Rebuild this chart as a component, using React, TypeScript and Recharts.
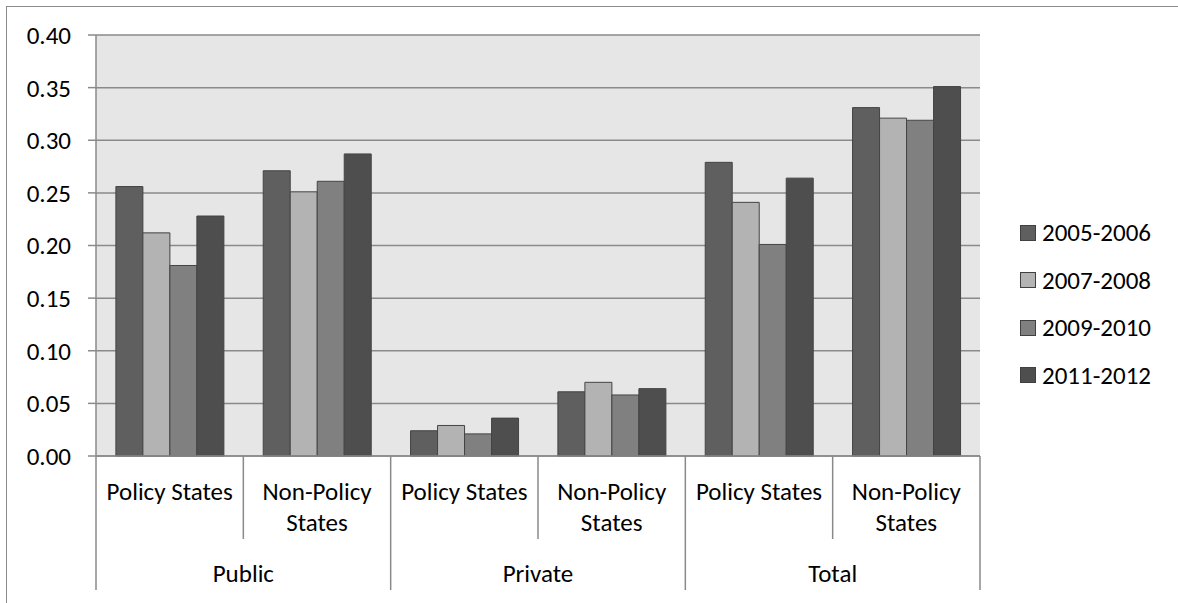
import { BarChart, Bar, XAxis, YAxis, CartesianGrid } from "recharts";

// categories (two-level axis)
const groups = ["Public", "Public", "Private", "Private", "Total", "Total"];
const subLabels = [
  ["Policy States"],
  ["Non-Policy", "States"],
  ["Policy States"],
  ["Non-Policy", "States"],
  ["Policy States"],
  ["Non-Policy", "States"],
];

// series values
const s2005 = [0.256, 0.271, 0.024, 0.061, 0.279, 0.331];
const s2007 = [0.212, 0.251, 0.029, 0.07, 0.241, 0.321];
const s2009 = [0.181, 0.261, 0.021, 0.058, 0.201, 0.319];
const s2011 = [0.228, 0.287, 0.036, 0.064, 0.264, 0.351];

const yTicks = [0, 0.05, 0.1, 0.15, 0.2, 0.25, 0.3, 0.35, 0.4];

const series = [
  { key: "2005-2006", values: s2005, color: "#5f5f5f" },
  { key: "2007-2008", values: s2007, color: "#b3b3b3" },
  { key: "2009-2010", values: s2009, color: "#808080" },
  { key: "2011-2012", values: s2011, color: "#4e4e4e" },
];

const data = groups.map((g, i) => {
  const row: Record<string, any> = { id: i, group: g, sub: subLabels[i].join(" ") };
  series.forEach(s => (row[s.key] = s.values[i]));
  return row;
});

const FONT = "Carlito, Calibri, Lato, sans-serif";
const LINE = "#8a8a8a";
const FS = 25;

function CategoryTick(props: any) {
  const { x, y, payload, index } = props;
  const half = payload && payload.offset ? payload.offset : 884 / 12;
  const lines = subLabels[index] || [];
  const isFirst = index % 2 === 0;
  return (
    <g>
      {lines.map((t, k) => (
        <text key={k} x={x} y={y + 44 + k * 31} textAnchor="middle" fontSize={FS} fill="#000" fontFamily={FONT}>
          {t}
        </text>
      ))}
      {isFirst && (
        <>
          <line x1={x - half} y1={y} x2={x - half} y2={y + 134} stroke={LINE} strokeWidth={1.5} />
          <line x1={x + half} y1={y} x2={x + half} y2={y + 83} stroke={LINE} strokeWidth={1.5} />
          <text x={x + half} y={y + 126} textAnchor="middle" fontSize={FS} fill="#000" fontFamily={FONT}>
            {groups[index]}
          </text>
        </>
      )}
      {index === groups.length - 1 && (
        <line x1={x + half} y1={y} x2={x + half} y2={y + 134} stroke={LINE} strokeWidth={1.5} />
      )}
    </g>
  );
}

function LegendBox() {
  return (
    <div style={{ position: "absolute", left: 1020, top: 209, fontFamily: FONT, fontSize: FS, color: "#000" }}>
      {series.map(s => (
        <div key={s.key} style={{ display: "flex", alignItems: "center", height: 47.5 }}>
          <span
            style={{
              display: "inline-block",
              width: 14,
              height: 14,
              background: s.color,
              border: "1px solid #404040",
              marginRight: 6,
            }}
          />
          <span>{s.key}</span>
        </div>
      ))}
    </div>
  );
}

export default function App() {
  return (
    <div style={{ position: "absolute", left: 0, top: 0, width: 1178, height: 603, background: "#fff" }}>
      <div
        style={{
          position: "absolute",
          left: 6,
          top: 6,
          width: 1172,
          height: 597,
          borderTop: `1px solid ${LINE}`,
          borderLeft: `1px solid ${LINE}`,
        }}
      />
      <div style={{ position: "absolute", left: 0, top: 0 }}>
        <BarChart
          width={1178}
          height={603}
          data={data}
          margin={{ top: 35, right: 198, left: 0, bottom: 0 }}
          barCategoryGap="13.5%"
          barGap={0}
        >
          <CartesianGrid vertical={false} stroke={LINE} strokeWidth={1.5} fill="#e6e6e6" />
          <XAxis
            dataKey="sub"
            interval={0}
            height={147}
            tickLine={false}
            tickSize={0}
            tickMargin={0}
            axisLine={{ stroke: LINE, strokeWidth: 1.5 }}
            tick={<CategoryTick />}
          />
          <YAxis
            width={96}
            domain={[0, 0.4]}
            ticks={yTicks}
            interval={0}
            tickFormatter={(v: number) => v.toFixed(2)}
            tickSize={8}
            tickMargin={17}
            tickLine={{ stroke: LINE, strokeWidth: 1.5 }}
            axisLine={{ stroke: LINE, strokeWidth: 1.5 }}
            tick={{ fontSize: FS, fill: "#000", fontFamily: FONT }}
          />
          {series.map(s => (
            <Bar
              key={s.key}
              dataKey={s.key}
              name={s.key}
              fill={s.color}
              stroke="#444"
              strokeWidth={1}
              isAnimationActive={false}
            />
          ))}
        </BarChart>
      </div>
      <LegendBox />
    </div>
  );
}
